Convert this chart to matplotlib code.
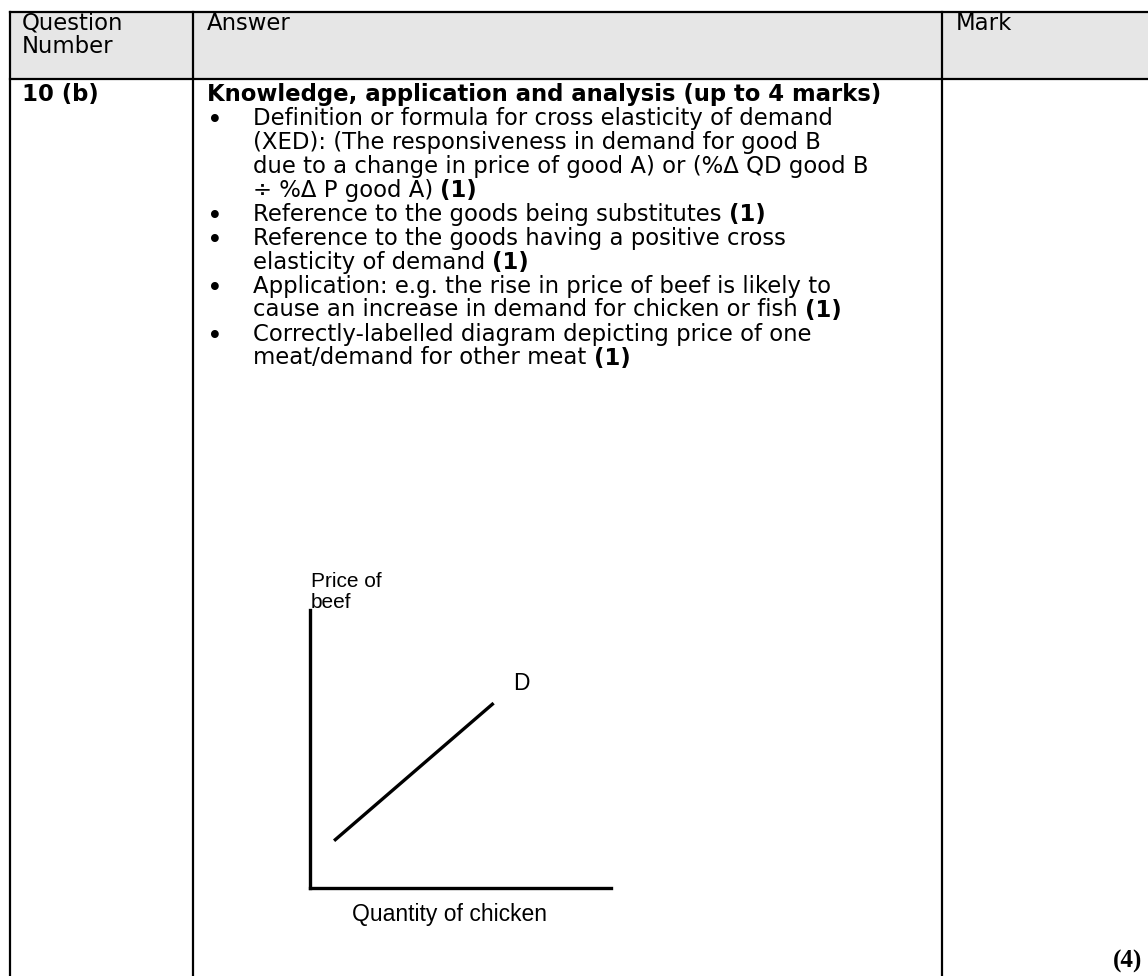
import matplotlib.pyplot as plt
from matplotlib.patches import Rectangle

# table text
header = ['Question\nNumber', 'Answer', 'Mark']
question = '10 (b)'
heading = 'Knowledge, application and analysis (up to 4 marks)'
bullets = [
    [('Definition or formula for cross elasticity of demand', ''),
     ('(XED): (The responsiveness in demand for good B', ''),
     ('due to a change in price of good A) or (%Δ QD good B', ''),
     ('÷ %Δ P good A) ', '(1)')],
    [('Reference to the goods being substitutes ', '(1)')],
    [('Reference to the goods having a positive cross', ''),
     ('elasticity of demand ', '(1)')],
    [('Application: e.g. the rise in price of beef is likely to', ''),
     ('cause an increase in demand for chicken or fish ', '(1)')],
    [('Correctly-labelled diagram depicting price of one', ''),
     ('meat/demand for other meat ', '(1)')],
]
mark = '(4)'

# diagram data
demand_q = [0.8, 6.1]
demand_p = [1.7, 6.65]
ylabel_txt = 'Price of\nbeef'
xlabel_txt = 'Quantity of chicken'
curve_label = 'D'

W, H = 1148, 976
fig = plt.figure(figsize=(W / 100, H / 100), dpi=100)
ax = fig.add_axes([0, 0, 1, 1])
ax.set_xlim(0, W)
ax.set_ylim(H, 0)
ax.axis('off')

font = 'DejaVu Sans'
fs = 16.4
lw = 1.6

# header shading and grid
ax.add_patch(Rectangle((10, 12), W, 67, facecolor='#e6e6e6', edgecolor='none'))
ax.plot([10, W], [12, 12], color='black', lw=lw)
ax.plot([10, W], [79, 79], color='black', lw=lw)
for x in [10, 193, 942]:
    ax.plot([x, x], [12, H], color='black', lw=lw)

ax.text(22, 35, header[0], fontsize=fs, family=font, va='center', ha='left',
        linespacing=1.05)
ax.text(207, 23, header[1], fontsize=fs, family=font, va='center', ha='left')
ax.text(956, 23, header[2], fontsize=fs, family=font, va='center', ha='left')

ax.text(22, 94, question, fontsize=fs, family=font, weight='bold', va='center')
ax.text(207, 94, heading, fontsize=fs, family=font, weight='bold', va='center')

fig.canvas.draw()
renderer = fig.canvas.get_renderer()
inv = ax.transData.inverted()

y = 118
step = 24
for item in bullets:
    ax.text(215, y + 3, '•', fontsize=fs + 3, family=font, va='center', ha='center')
    for plain, bold in item:
        t = ax.text(253, y, plain, fontsize=fs, family=font, va='center')
        if bold:
            bb = t.get_window_extent(renderer=renderer)
            x_end = inv.transform((bb.x1, bb.y0))[0]
            ax.text(x_end, y, bold, fontsize=fs, family=font, weight='bold',
                    va='center', ha='left')
        y += step

ax.text(1142, 961, mark, fontsize=18, family='Liberation Serif', weight='bold',
        ha='right', va='center')

# diagram
dax = fig.add_axes([310 / W, 1 - 888 / H, 301 / W, 278 / H])
dax.plot(demand_q, demand_p, color='black', lw=2.4, solid_capstyle='butt')
dax.set_xlim(0, 10)
dax.set_ylim(0, 10)
dax.spines['top'].set_visible(False)
dax.spines['right'].set_visible(False)
dax.spines['left'].set_linewidth(2.4)
dax.spines['bottom'].set_linewidth(2.4)
dax.set_xticks([])
dax.set_yticks([])
dax.patch.set_alpha(0)

lab_fs = 15
ax.text(311, 592, ylabel_txt, fontsize=lab_fs, family='Liberation Sans', va='center',
        ha='left', linespacing=1.15)
ax.text(521, 683, curve_label, fontsize=lab_fs + 1.5, family='Liberation Sans',
        va='center', ha='center')
ax.text(450, 915, xlabel_txt, fontsize=lab_fs + 1.5, family='Liberation Sans',
        va='center', ha='center')

fig.savefig('out.png', dpi=100)
